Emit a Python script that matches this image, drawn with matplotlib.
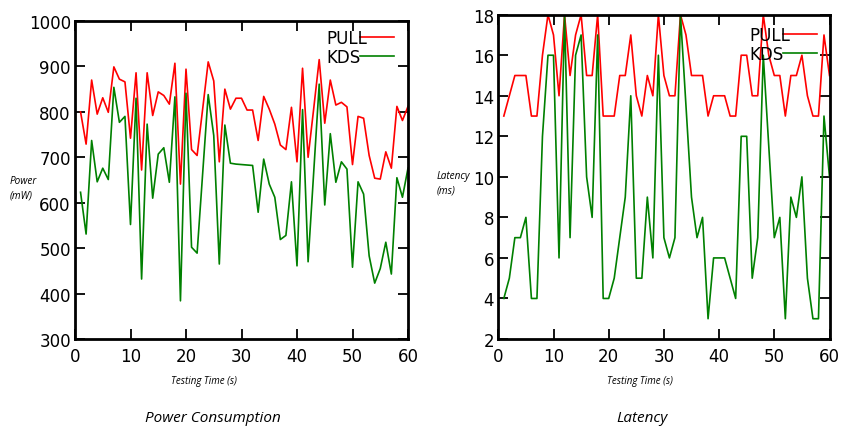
import matplotlib
matplotlib.use("Agg")
import matplotlib.pyplot as plt

# seconds 1..60
time_s = list(range(1, 61))

power_pull = [800, 729, 870, 795, 831, 799, 899, 872, 866, 742,
              886, 672, 886, 792, 844, 836, 817, 907, 641, 894,
              717, 704, 806, 910, 868, 690, 850, 806, 830, 830,
              804, 804, 737, 834, 806, 773, 727, 717, 810, 690,
              896, 700, 806, 915, 775, 870, 815, 821, 811, 684,
              790, 786, 704, 654, 652, 712, 676, 812, 781, 812]
power_kds = [623, 531, 737, 646, 676, 651, 854, 777, 790, 552,
             830, 432, 773, 610, 707, 721, 645, 833, 384, 841,
             502, 489, 664, 838, 748, 465, 771, 687, 685, 684,
             683, 682, 579, 696, 641, 612, 519, 528, 646, 461,
             805, 470, 665, 861, 595, 752, 645, 690, 674, 458,
             646, 619, 483, 423, 455, 513, 443, 655, 612, 676]

latency_pull = [13, 14, 15, 15, 15, 13, 13, 16, 18, 17,
                14, 18, 15, 17, 18, 15, 15, 18, 13, 13,
                13, 15, 15, 17, 14, 13, 15, 14, 18, 15,
                14, 14, 18, 17, 15, 15, 15, 13, 14, 14,
                14, 13, 13, 16, 16, 14, 14, 18, 16, 15,
                15, 13, 15, 15, 16, 14, 13, 13, 17, 15]
latency_kds = [4, 5, 7, 7, 8, 4, 4, 12, 16, 16,
               6, 18, 7, 16, 17, 10, 8, 17, 4, 4,
               5, 7, 9, 14, 5, 5, 9, 6, 16, 7,
               6, 7, 18, 13.5, 9, 7, 8, 3, 6, 6,
               6, 5, 4, 12, 12, 5, 7, 16, 11.5, 7,
               8, 3, 9, 8, 10, 5, 3, 3, 13, 10]

series_names = ["PULL", "KDS"]
series_colors = ["#ff0000", "#008000"]

W, H = 844, 427
fig = plt.figure(figsize=(W / 100, H / 100), dpi=100)

ax1 = fig.add_axes([75 / W, 1 - 340 / H, 333 / W, 318 / H])
ax2 = fig.add_axes([498.3 / W, 1 - 340 / H, 331.2 / W, 324.3 / H])

# axes, data, ylim, yticks, ylabel, ylabel x/y (px), xlabel x, title, title x, legend anchor
panels = [
    (ax1, [power_pull, power_kds], (300, 1000), range(300, 1001, 100),
     "Power\n(mW)", 10, 188.5, 204, "Power Consumption", 213, (0.856, 0.975)),
    (ax2, [latency_pull, latency_kds], (2, 18), range(2, 19, 2),
     "Latency\n(ms)", 437, 184, 640, "Latency", 642, (0.8605, 0.965)),
]

italic = dict(family=["Open Sans", "DejaVu Sans"], style="italic")

for ax, ys, ylim, yticks, ylab, ylx, yly, xlx, title, tx, anchor in panels:
    for y, name, col in zip(ys, series_names, series_colors):
        ax.plot(time_s, y, color=col, lw=1.2, label=name)
    ax.set_xlim(0, 60)
    ax.set_ylim(*ylim)
    ax.set_xticks(range(0, 61, 10))
    ax.set_yticks(list(yticks))
    ax.tick_params(direction="in", length=7, width=1.3, labelsize=12,
                   top=True, right=True, color="black")
    ax.tick_params(axis="x", pad=6)
    ax.tick_params(axis="y", pad=3)
    for sp in ax.spines.values():
        sp.set_linewidth(2)
    # gnuplot-like key: left-aligned text with the sample line overlapping its end
    ax.legend(loc="upper left", bbox_to_anchor=anchor, frameon=False,
              markerfirst=True, fontsize=12, handlelength=2.05,
              handletextpad=-4.1, borderpad=0, borderaxespad=0,
              labelspacing=0.05)

    fig.text(ylx / W, 1 - yly / H, ylab, fontsize=7.2,
             ha="left", va="center", linespacing=1.45, **italic)
    fig.text(xlx / W, 1 - 382 / H, "Testing Time (s)", fontsize=7,
             ha="center", va="center", **italic)
    fig.text(tx / W, 1 - 419 / H, title, fontsize=11,
             ha="center", va="center", **italic)

fig.savefig("out.png", dpi=100)
